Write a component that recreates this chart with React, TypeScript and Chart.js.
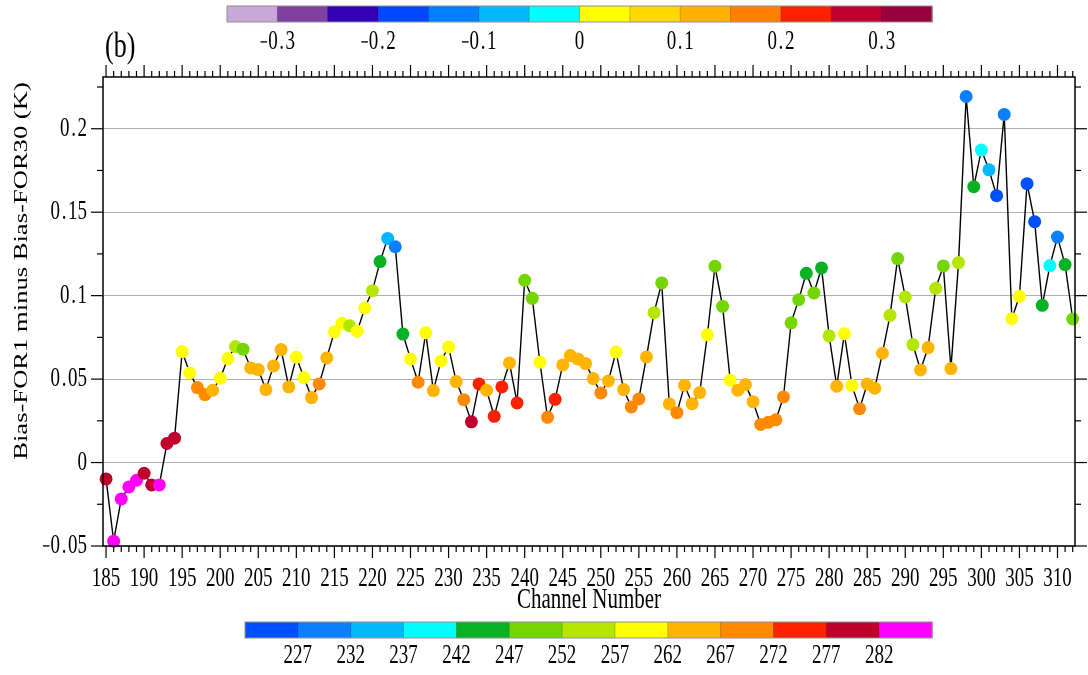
import React, { useEffect, useRef } from "react";
import { Chart, registerables } from "chart.js";

Chart.register(...registerables);

// Channel numbers and the FOR1 - FOR30 bias difference (K)
const CHANNELS: number[] = Array.from({ length: 128 }, (_, i) => 185 + i);

const BIAS_DIFF: number[] = [
  -0.0098, -0.0471, -0.0218, -0.0146, -0.0106, -0.0064, -0.0134, -0.0134, 0.0114, 0.0146,
  0.0665, 0.0537, 0.0449, 0.0407, 0.0433, 0.0505, 0.0623, 0.0695, 0.0679, 0.0567,
  0.0557, 0.0437, 0.0579, 0.0677, 0.0453, 0.0631, 0.0509, 0.0389, 0.0471, 0.0627,
  0.0783, 0.0834, 0.082, 0.0787, 0.0926, 0.103, 0.1204, 0.1343, 0.1293, 0.077,
  0.0621, 0.0481, 0.0777, 0.0431, 0.0609, 0.0693, 0.0485, 0.0377, 0.0244, 0.0471,
  0.0433, 0.0277, 0.0453, 0.0597, 0.0357, 0.1092, 0.0984, 0.0601, 0.0271, 0.0379,
  0.0585, 0.0641, 0.0621, 0.0593, 0.0503, 0.0417, 0.0489, 0.0663, 0.0437, 0.0333,
  0.0381, 0.0633, 0.0898, 0.1076, 0.0351, 0.0299, 0.0463, 0.0353, 0.0419, 0.0765,
  0.1176, 0.0936, 0.0493, 0.0433, 0.0467, 0.0365, 0.0228, 0.0241, 0.0256, 0.0393,
  0.0837, 0.0976, 0.1134, 0.1016, 0.1166, 0.0759, 0.0457, 0.0771, 0.0462, 0.0323,
  0.0471, 0.0445, 0.0655, 0.0882, 0.1222, 0.0992, 0.0707, 0.0555, 0.0689, 0.1044,
  0.1178, 0.0563, 0.1198, 0.2193, 0.1653, 0.1872, 0.1754, 0.1599, 0.2086, 0.0862,
  0.0996, 0.1671, 0.1443, 0.0942, 0.118, 0.1351, 0.1186, 0.086,
];

// Brightness temperature (K) of each channel, used for marker colour
const BRIGHTNESS_T: number[] = [
  279.5, 284.5, 284.5, 284.5, 284.5, 279.5, 279.5, 284.5, 279.5, 279.5,
  259.5, 259.5, 269.5, 269.5, 264.5, 259.5, 259.5, 254.5, 249.5, 264.5,
  264.5, 264.5, 264.5, 264.5, 264.5, 259.5, 259.5, 264.5, 269.5, 264.5,
  259.5, 259.5, 254.5, 259.5, 259.5, 254.5, 244.5, 234.5, 229.5, 244.5,
  259.5, 269.5, 259.5, 264.5, 259.5, 259.5, 264.5, 269.5, 279.5, 274.5,
  264.5, 274.5, 274.5, 264.5, 274.5, 249.5, 249.5, 259.5, 269.5, 274.5,
  264.5, 264.5, 264.5, 264.5, 264.5, 269.5, 264.5, 259.5, 264.5, 269.5,
  269.5, 264.5, 254.5, 249.5, 264.5, 269.5, 264.5, 264.5, 264.5, 259.5,
  249.5, 249.5, 259.5, 264.5, 264.5, 264.5, 269.5, 269.5, 269.5, 269.5,
  249.5, 249.5, 244.5, 249.5, 244.5, 254.5, 264.5, 259.5, 259.5, 269.5,
  264.5, 264.5, 264.5, 254.5, 249.5, 254.5, 254.5, 264.5, 264.5, 254.5,
  249.5, 264.5, 254.5, 229.5, 244.5, 239.5, 234.5, 224.5, 229.5, 259.5,
  259.5, 224.5, 224.5, 244.5, 239.5, 229.5, 244.5, 249.5,
];

// Temperature colour scale (K): class edges and fills
const TEMP_EDGES: number[] = [227, 232, 237, 242, 247, 252, 257, 262, 267, 272, 277, 282];
const TEMP_COLORS: string[] = [
  "#0050ff", "#0a80ff", "#00b8ff", "#00ffff", "#08b224", "#74d600", "#b4e600",
  "#ffff00", "#ffb400", "#ff8a00", "#ff2200", "#c0002c", "#ff00ff",
];

// Bias difference colour scale
const DIFF_LABELS: string[] = ["-0.3", "-0.2", "-0.1", "0", "0.1", "0.2", "0.3"];
const DIFF_COLORS: string[] = [
  "#c8a8d8", "#8040a0", "#3400b8", "#0048ff", "#0080ff", "#00b8ff", "#00ffff",
  "#ffff00", "#ffd800", "#ffb000", "#ff8000", "#ff2000", "#c00030", "#980040",
];

const X_TICK_LABELS: number[] = [185, 190, 195, 200, 205, 210, 215, 220, 225, 230, 235, 240, 245, 250, 255, 260, 265, 270, 275, 280, 285, 290, 295, 300, 305, 310];
const Y_TICK_LABELS: string[] = ["-0.05", "0", "0.05", "0.1", "0.15", "0.2"];

const FONT = '"Liberation Serif", "Times New Roman", serif';
const V_STRETCH = 1.4;

function colorForTemp(t: number): string {
  let k = 0;
  while (k < TEMP_EDGES.length && t >= TEMP_EDGES[k]) k++;
  return TEMP_COLORS[k];
}

function drawText(
  ctx: CanvasRenderingContext2D,
  text: string,
  x: number,
  y: number,
  size: number,
  align: CanvasTextAlign,
  vertical = false
) {
  ctx.save();
  ctx.translate(x, y);
  ctx.scale(1, V_STRETCH);
  if (vertical) ctx.rotate(-Math.PI / 2);
  ctx.font = `${size}px ${FONT}`;
  ctx.fillStyle = "#000";
  ctx.textAlign = align;
  ctx.textBaseline = "middle";
  ctx.fillText(text, 0, 0);
  ctx.restore();
}

// Numeric labels: wide spacing for the decimal point and minus sign
function charAdvance(ch: string, size: number): number {
  if (ch === ".") return 0.42 * size;
  if (ch === "-") return 0.45 * size;
  return 0.5 * size;
}

function drawNumber(
  ctx: CanvasRenderingContext2D,
  text: string,
  x: number,
  y: number,
  size: number,
  align: "left" | "center" | "right"
) {
  const chars = text.split("");
  const total = chars.reduce((s, c) => s + charAdvance(c, size), 0);
  let cx = align === "left" ? x : align === "center" ? x - total / 2 : x - total;
  ctx.save();
  ctx.font = `${size}px ${FONT}`;
  ctx.fillStyle = "#000";
  ctx.textBaseline = "middle";
  chars.forEach((c) => {
    const adv = charAdvance(c, size);
    ctx.save();
    if (c === "-") {
      // minus sign: a short bar sitting right against the following digit
      ctx.fillRect(cx + 0.05 * size, y - 0.04 * size, adv - 0.1 * size, Math.max(1.2, 0.07 * size));
    } else {
      ctx.textAlign = "center";
      ctx.translate(cx + adv / 2, y);
      ctx.scale(1, V_STRETCH);
      ctx.fillText(c, 0, 0);
    }
    ctx.restore();
    cx += adv;
  });
  ctx.restore();
}

function line(ctx: CanvasRenderingContext2D, x1: number, y1: number, x2: number, y2: number) {
  ctx.beginPath();
  ctx.moveTo(x1, y1);
  ctx.lineTo(x2, y2);
  ctx.stroke();
}

function drawColorBar(
  ctx: CanvasRenderingContext2D,
  colors: string[],
  labels: string[],
  firstLabelEdge: number,
  labelEvery: number,
  left: number,
  right: number,
  top: number,
  height: number,
  labelY: number
) {
  const w = (right - left) / colors.length;
  colors.forEach((c, i) => {
    ctx.fillStyle = c;
    ctx.fillRect(left + i * w, top, w + 0.5, height);
  });
  ctx.strokeStyle = "rgba(0,0,0,0.35)";
  ctx.lineWidth = 0.6;
  for (let i = 1; i < colors.length; i++) line(ctx, left + i * w, top, left + i * w, top + height);
  ctx.strokeStyle = "#909090";
  ctx.lineWidth = 1;
  ctx.strokeRect(left, top, right - left, height);
  labels.forEach((t, i) => {
    drawNumber(ctx, t, left + (firstLabelEdge + i * labelEvery) * w, labelY, 19, "center");
  });
}

const decorPlugin = {
  id: "decor",
  afterDatasetsDraw(chart: any) {
    const { ctx, chartArea: a, scales } = chart;
    const xs = scales.x;
    const ys = scales.y;
    ctx.save();
    ctx.strokeStyle = "#000";
    ctx.lineWidth = 1.5;
    ctx.strokeRect(a.left, a.top, a.right - a.left, a.bottom - a.top);

    ctx.lineWidth = 1.2;
    CHANNELS.forEach((c) => {
      const px = xs.getPixelForValue(c);
      const len = c % 5 === 0 ? 12 : 6;
      line(ctx, px, a.bottom, px, a.bottom + len);
      line(ctx, px, a.top, px, a.top - len);
    });
    for (let k = -2; k * 0.025 <= ys.max + 1e-9; k++) {
      const py = ys.getPixelForValue(k * 0.025);
      const len = k % 2 === 0 ? 12 : 6;
      line(ctx, a.left, py, a.left - len, py);
      line(ctx, a.right, py, a.right + len, py);
    }

    X_TICK_LABELS.forEach((v) => {
      drawNumber(ctx, String(v), xs.getPixelForValue(v), a.bottom + 33, 19, "center");
    });
    Y_TICK_LABELS.forEach((t) => {
      drawNumber(ctx, t, a.left - 16, ys.getPixelForValue(parseFloat(t)), 19, "right");
    });

    drawText(ctx, "Channel Number", (a.left + a.right) / 2, a.bottom + 54, 21, "center");
    drawText(ctx, "Bias-FOR1 minus Bias-FOR30 (K)", 22, 271, 19, "center", true);
    drawText(ctx, "(b)", 105, 47, 26, "left");
    ctx.restore();
  },
  afterDraw(chart: any) {
    const { ctx } = chart;
    ctx.save();
    drawColorBar(ctx, DIFF_COLORS, DIFF_LABELS, 1, 2, 227, 932, 6, 16, 42);
    drawColorBar(ctx, TEMP_COLORS, TEMP_EDGES.map(String), 1, 1, 245, 932, 622, 16, 656);
    ctx.restore();
  },
};

export default function App() {
  const canvasRef = useRef<HTMLCanvasElement | null>(null);

  useEffect(() => {
    document.body.style.margin = "0";
    const canvas = canvasRef.current;
    if (!canvas) return;
    const chart = new Chart(canvas, {
      type: "line",
      data: {
        datasets: [
          {
            data: CHANNELS.map((c, i) => ({ x: c, y: BIAS_DIFF[i] })),
            borderColor: "#000",
            borderWidth: 1.4,
            tension: 0,
            pointRadius: 6.5,
            pointHoverRadius: 6.5,
            pointBorderWidth: 0,
            pointBackgroundColor: BRIGHTNESS_T.map(colorForTemp),
            pointBorderColor: BRIGHTNESS_T.map(colorForTemp),
            clip: false as any,
          },
        ],
      },
      options: {
        responsive: false,
        animation: false,
        devicePixelRatio: 1,
        layout: { padding: { top: 77, right: 13, left: 0, bottom: 0 } },
        plugins: { legend: { display: false }, tooltip: { enabled: false } },
        scales: {
          x: {
            type: "linear",
            min: 184.6,
            max: 312.3,
            ticks: { display: false },
            grid: { display: false },
            border: { display: false },
            afterFit: (s: any) => {
              s.height = 129;
            },
          },
          y: {
            type: "linear",
            min: -0.05,
            max: 0.231,
            ticks: { display: false, stepSize: 0.05 },
            grid: {
              drawTicks: false,
              lineWidth: 1,
              color: (c: any) => {
                const v = c.tick ? c.tick.value : 0;
                const r = Math.abs(v / 0.05 - Math.round(v / 0.05));
                return r < 1e-6 ? "#b0b0b0" : "rgba(0,0,0,0)";
              },
            },
            border: { display: false },
            afterFit: (s: any) => {
              s.width = 103;
            },
          },
        },
      },
      plugins: [decorPlugin],
    });
    return () => chart.destroy();
  }, []);

  return <canvas ref={canvasRef} width={1088} height={675} style={{ display: "block" }} />;
}
